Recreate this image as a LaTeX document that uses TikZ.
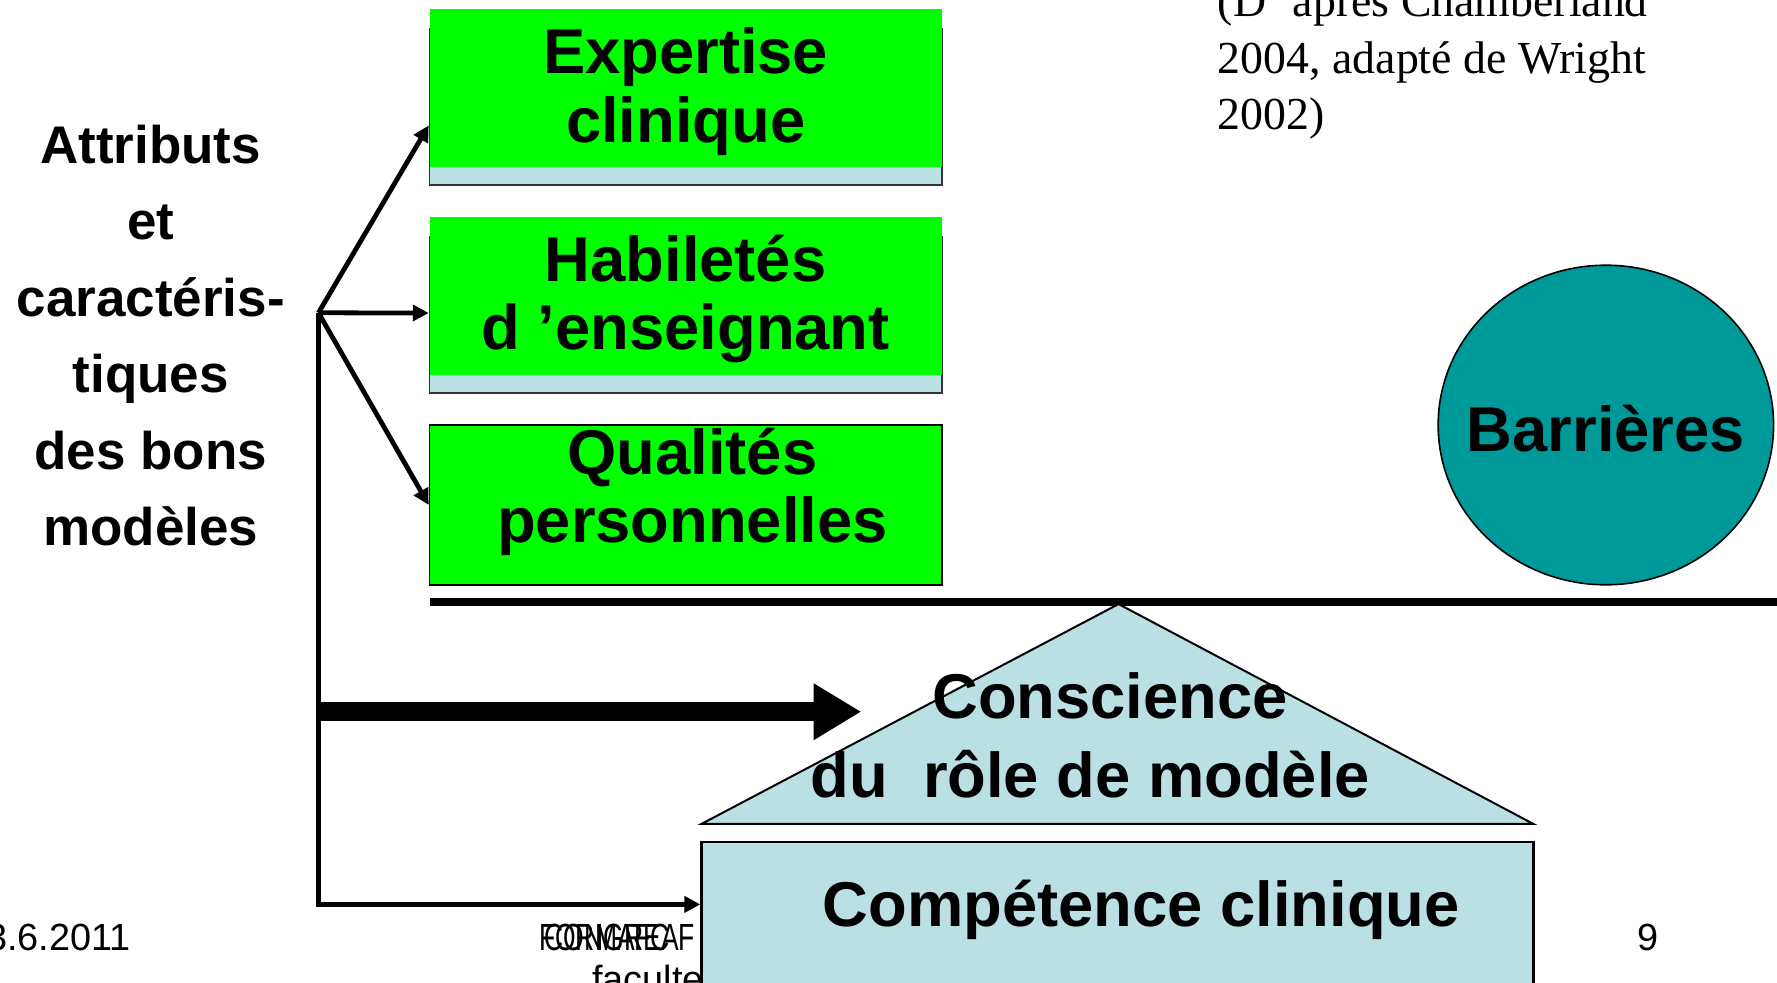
\documentclass[tikz,border=0pt]{standalone}
\usepackage{fontspec}
\setmainfont{Liberation Sans}
\newfontfamily\refserif{Liberation Serif}
\usetikzlibrary{positioning}
\usetikzlibrary{calc}
\usetikzlibrary{shapes.geometric}
\usetikzlibrary{arrows.meta}
\definecolor{boxgreen}{HTML}{00FF00}
\definecolor{paleblue}{HTML}{BBE0E3}
\definecolor{barrierteal}{HTML}{009999}

\begin{document}
\begin{tikzpicture}[x=0.1mm,y=-0.1mm,
      greenblock/.style={rectangle,fill=boxgreen,minimum width=45.2mm,minimum height=13.9mm,inner sep=0pt},
      bandblock/.style={rectangle,draw=black!80,fill=paleblue,minimum width=45.2mm,minimum height=13.8mm,inner sep=0pt},
      boxtext/.style={inner sep=0pt,align=center,font=\fontsize{15.9}{17.2}\bfseries\selectfont},
      bigtext/.style={inner sep=0pt,align=center,font=\fontsize{15.9}{19.9}\bfseries\selectfont},
      foottext/.style={inner sep=0pt,font=\fontsize{9.5}{11}\selectfont},
      thinarrow/.style={line width=1.2pt,-{Triangle[length=1.4mm,width=1.4mm]}},
      thickarrow/.style={line width=1.7mm,-{Triangle[length=4.2mm,width=4.7mm]}}]
      \useasboundingbox (0,0) rectangle (1568,867);
      \clip (0,0) rectangle (1568,867);

      % Blocks
      \node[bandblock]                    (expband)  at (605,94)  {};
      \node[greenblock]                   (expertise) at (605,77.5) {};
      \node[boxtext]                      (exptext)  at (605,81)  {Expertise\\clinique};
      \node[bandblock]                    (habband)  at (605,278) {};
      \node[greenblock]                   (habiletes) at (605,261) {};
      \node[boxtext]                      (habtext)  at (605,264) {Habiletés\\d ’enseignant};
      \node[greenblock,draw=black,minimum height=14.1mm] (qualites) at (605,445.5) {};
      \node[boxtext]                      (qualtext) at (611,434) {Qualités\\personnelles};

      \node[align=center,inner sep=0pt,font=\fontsize{13.3}{19.2}\bfseries\selectfont] (attributs) at (133,296)
            {Attributs\\et\\caractéris-\\tiques\\des bons\\modèles};

      \node[anchor=north west,inner sep=0pt,align=left,font=\refserif\fontsize{11.5}{14.2}\selectfont] (source) at (1074,-14)
            {(D ’après Chamberland\\2004, adapté de Wright\\2002)};

      \node[ellipse,draw=black,fill=barrierteal,minimum width=29.6mm,minimum height=28.2mm,inner sep=0pt] (barrieres) at (1417,375) {};
      \node[bigtext] (barrtext) at (1417,378) {Barrières};

      % Footer
      \node[foottext,anchor=base east] (date)    at (116,839)  {3.6.2011};
      \node[foottext,anchor=base west] (foota)   at (475,839)  {\scalebox{0.7}[1]{FORMAFC}};
      \node[foottext,anchor=base west] (footb)   at (480,839)  {\scalebox{0.7}[1]{CONGREAF}};
      \node[foottext,anchor=base west] (faculte) at (522,876)  {faculte};
      \node[foottext,anchor=base]      (page)    at (1454,839) {9};

      % Base line, roof and house
      \coordinate (lineleft)  at (379,531);
      \coordinate (lineright) at (1568,531);
      \draw[line width=0.7mm] (lineleft) -- (lineright);

      \coordinate (apex)      at (987,533);
      \coordinate (roofleft)  at (619,727);
      \coordinate (roofright) at (1353,727);
      \draw[fill=paleblue,line width=0.5pt] (apex) -- (roofleft) -- (roofright) -- cycle;
      \node[bigtext] (conscience) at (962,649) {\hspace*{3.5mm}Conscience\\du\ \ rôle de modèle};

      \node[rectangle,draw=black,fill=paleblue,line width=0.6pt,minimum width=73.4mm,minimum height=16mm,anchor=north,inner sep=0pt] (compbox) at (986,742) {};
      \node[bigtext] (competence) at (1007,803) {Compétence clinique};

      % Arrows
      \coordinate (branch) at (281,276);
      \coordinate (corner) at (281,798);
      \coordinate (mid)    at (281,628);
      \coordinate (midtip) at (760,628);
      \draw[thinarrow] (branch) -- ([yshift=3.7mm]expertise.south west);
      \draw[thinarrow] (branch) -- ([yshift=5.5mm]habiletes.south west);
      \draw[thinarrow] (branch) -- (qualites.west);
      \draw[thinarrow] (branch) -- (corner) -- (corner -| compbox.west);
      \draw[thickarrow] (mid) -- (midtip);

    \end{tikzpicture}
\end{document}
